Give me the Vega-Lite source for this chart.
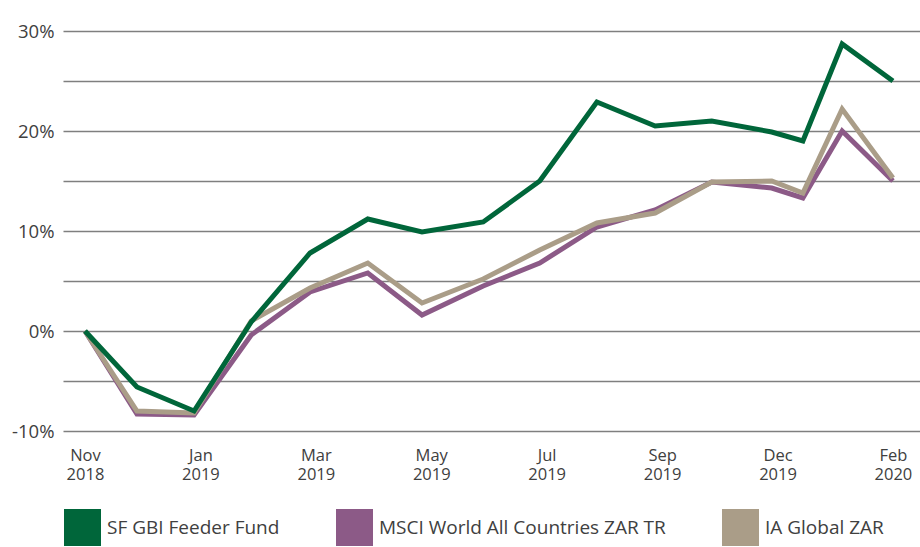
{
  "$schema": "https://vega.github.io/schema/vega-lite/v6.json",
  "width": 857,
  "height": 400,
  "autosize": {"type": "none"},
  "padding": {"left": 63, "top": 31, "right": 0, "bottom": 116},
  "background": "white",
  "config": {
    "view": {"stroke": null},
    "font": "Open Sans",
    "axis": {"labelFont": "Open Sans", "labelColor": "#404040"},
    "legend": {"labelFont": "Open Sans"}
  },
  "data": {
    "values": [
      {"month": "Nov 2018", "pos": 0, "series": "SF GBI Feeder Fund", "ret": 0},
      {"month": "Dec 2018", "pos": 0.9, "series": "SF GBI Feeder Fund", "ret": -5.6},
      {"month": "Jan 2019", "pos": 1.89, "series": "SF GBI Feeder Fund", "ret": -8.0},
      {"month": "Feb 2019", "pos": 2.88, "series": "SF GBI Feeder Fund", "ret": 0.9},
      {"month": "Mar 2019", "pos": 3.9, "series": "SF GBI Feeder Fund", "ret": 7.8},
      {"month": "Apr 2019", "pos": 4.9, "series": "SF GBI Feeder Fund", "ret": 11.2},
      {"month": "May 2019", "pos": 5.84, "series": "SF GBI Feeder Fund", "ret": 9.9},
      {"month": "Jun 2019", "pos": 6.9, "series": "SF GBI Feeder Fund", "ret": 10.9},
      {"month": "Jul 2019", "pos": 7.88, "series": "SF GBI Feeder Fund", "ret": 15.0},
      {"month": "Aug 2019", "pos": 8.87, "series": "SF GBI Feeder Fund", "ret": 22.9},
      {"month": "Sep 2019", "pos": 9.88, "series": "SF GBI Feeder Fund", "ret": 20.5},
      {"month": "Oct 2019", "pos": 10.86, "series": "SF GBI Feeder Fund", "ret": 21.0},
      {"month": "Nov 2019", "pos": 11.9, "series": "SF GBI Feeder Fund", "ret": 19.9},
      {"month": "Dec 2019", "pos": 12.44, "series": "SF GBI Feeder Fund", "ret": 19.0},
      {"month": "Jan 2020", "pos": 13.12, "series": "SF GBI Feeder Fund", "ret": 28.7},
      {"month": "Feb 2020", "pos": 14, "series": "SF GBI Feeder Fund", "ret": 25.0},

      {"month": "Nov 2018", "pos": 0, "series": "MSCI World All Countries ZAR TR", "ret": 0},
      {"month": "Dec 2018", "pos": 0.9, "series": "MSCI World All Countries ZAR TR", "ret": -8.3},
      {"month": "Jan 2019", "pos": 1.89, "series": "MSCI World All Countries ZAR TR", "ret": -8.4},
      {"month": "Feb 2019", "pos": 2.88, "series": "MSCI World All Countries ZAR TR", "ret": -0.4},
      {"month": "Mar 2019", "pos": 3.9, "series": "MSCI World All Countries ZAR TR", "ret": 3.9},
      {"month": "Apr 2019", "pos": 4.9, "series": "MSCI World All Countries ZAR TR", "ret": 5.8},
      {"month": "May 2019", "pos": 5.84, "series": "MSCI World All Countries ZAR TR", "ret": 1.6},
      {"month": "Jun 2019", "pos": 6.9, "series": "MSCI World All Countries ZAR TR", "ret": 4.5},
      {"month": "Jul 2019", "pos": 7.88, "series": "MSCI World All Countries ZAR TR", "ret": 6.8},
      {"month": "Aug 2019", "pos": 8.87, "series": "MSCI World All Countries ZAR TR", "ret": 10.4},
      {"month": "Sep 2019", "pos": 9.88, "series": "MSCI World All Countries ZAR TR", "ret": 12.1},
      {"month": "Oct 2019", "pos": 10.86, "series": "MSCI World All Countries ZAR TR", "ret": 14.9},
      {"month": "Nov 2019", "pos": 11.9, "series": "MSCI World All Countries ZAR TR", "ret": 14.3},
      {"month": "Dec 2019", "pos": 12.44, "series": "MSCI World All Countries ZAR TR", "ret": 13.3},
      {"month": "Jan 2020", "pos": 13.12, "series": "MSCI World All Countries ZAR TR", "ret": 20.0},
      {"month": "Feb 2020", "pos": 14, "series": "MSCI World All Countries ZAR TR", "ret": 15.0},

      {"month": "Nov 2018", "pos": 0, "series": "IA Global ZAR", "ret": 0},
      {"month": "Dec 2018", "pos": 0.9, "series": "IA Global ZAR", "ret": -8.0},
      {"month": "Jan 2019", "pos": 1.89, "series": "IA Global ZAR", "ret": -8.2},
      {"month": "Feb 2019", "pos": 2.88, "series": "IA Global ZAR", "ret": 1.0},
      {"month": "Mar 2019", "pos": 3.9, "series": "IA Global ZAR", "ret": 4.3},
      {"month": "Apr 2019", "pos": 4.9, "series": "IA Global ZAR", "ret": 6.8},
      {"month": "May 2019", "pos": 5.84, "series": "IA Global ZAR", "ret": 2.8},
      {"month": "Jun 2019", "pos": 6.9, "series": "IA Global ZAR", "ret": 5.2},
      {"month": "Jul 2019", "pos": 7.88, "series": "IA Global ZAR", "ret": 8.1},
      {"month": "Aug 2019", "pos": 8.87, "series": "IA Global ZAR", "ret": 10.8},
      {"month": "Sep 2019", "pos": 9.88, "series": "IA Global ZAR", "ret": 11.8},
      {"month": "Oct 2019", "pos": 10.86, "series": "IA Global ZAR", "ret": 14.9},
      {"month": "Nov 2019", "pos": 11.9, "series": "IA Global ZAR", "ret": 15.0},
      {"month": "Dec 2019", "pos": 12.44, "series": "IA Global ZAR", "ret": 13.8},
      {"month": "Jan 2020", "pos": 13.12, "series": "IA Global ZAR", "ret": 22.2},
      {"month": "Feb 2020", "pos": 14, "series": "IA Global ZAR", "ret": 15.3}
    ]
  },
  "encoding": {
    "x": {
      "field": "pos",
      "type": "quantitative",
      "scale": {"domain": [-0.381, 14.469], "nice": false, "zero": false},
      "axis": {
        "title": null,
        "values": [0, 2, 4, 6, 8, 10, 12, 14],
        "labelExpr": "split(['Nov 2018','Jan 2019','Mar 2019','May 2019','Jul 2019','Sep 2019','Dec 2019','Feb 2020'][round(datum.value/2)], ' ')",
        "grid": false,
        "domain": false,
        "ticks": false,
        "labelFontSize": 16.5,
        "labelLineHeight": 19,
        "labelPadding": 16,
        "labelAlign": "center",
        "labelFlush": false,
        "labelOverlap": false
      }
    },
    "y": {
      "field": "ret",
      "type": "quantitative",
      "scale": {"domain": [-10, 30], "nice": false},
      "axis": {
        "title": null,
        "values": [-10, -5, 0, 5, 10, 15, 20, 25, 30],
        "labelExpr": "datum.value % 10 == 0 ? datum.value + '%' : ''",
        "grid": true,
        "gridColor": "#7f7f7f",
        "gridWidth": 1.4,
        "domain": false,
        "ticks": false,
        "labelFontSize": 18.5,
        "labelPadding": 9,
        "labelOverlap": false
      }
    },
    "color": {
      "field": "series",
      "type": "nominal",
      "scale": {
        "domain": ["SF GBI Feeder Fund", "MSCI World All Countries ZAR TR", "IA Global ZAR"],
        "range": ["#00663a", "#8c5a87", "#aa9d88"]
      },
      "legend": {
        "title": null,
        "orient": "none",
        "direction": "horizontal",
        "legendX": 1,
        "legendY": 478,
        "symbolType": "square",
        "symbolSize": 1369,
        "symbolStrokeWidth": 0,
        "symbolOpacity": 1,
        "labelFontSize": 19,
        "labelColor": "#404040",
        "labelOffset": 6,
        "labelLimit": 400,
        "columnPadding": 56,
        "encode": {
          "symbols": {
            "update": {
              "fill": {"scale": "color", "field": "value"},
              "strokeWidth": {"value": 0},
              "opacity": {"value": 1}
            }
          }
        }
      }
    }
  },
  "layer": [
    {
      "transform": [{"filter": "datum.series == 'MSCI World All Countries ZAR TR'"}],
      "mark": {"type": "line", "strokeWidth": 5}
    },
    {
      "transform": [{"filter": "datum.series == 'IA Global ZAR'"}],
      "mark": {"type": "line", "strokeWidth": 5}
    },
    {
      "transform": [{"filter": "datum.series == 'SF GBI Feeder Fund'"}],
      "mark": {"type": "line", "strokeWidth": 5}
    }
  ]
}
